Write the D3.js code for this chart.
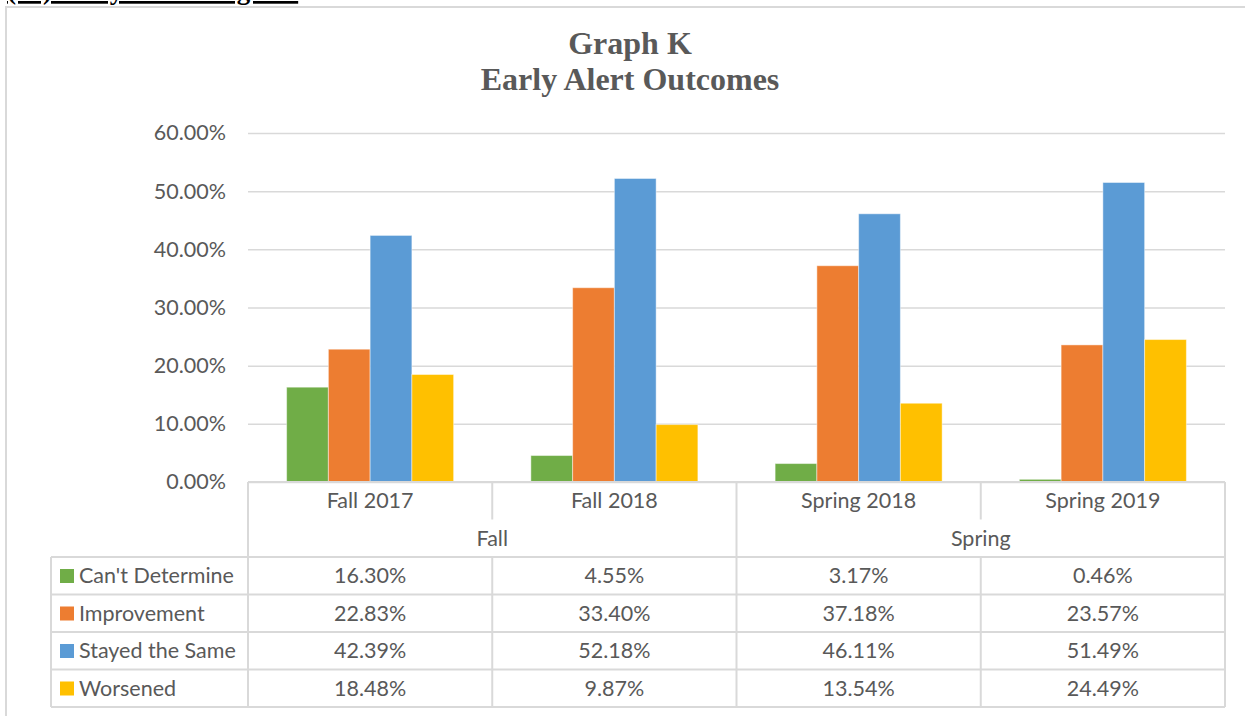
<!DOCTYPE html>
<html>
<head>
<meta charset="utf-8">
<script src="https://cdn.jsdelivr.net/npm/d3@7"></script>
<style>
  html, body { margin: 0; padding: 0; background: #fff; }
  svg { display: block; }
</style>
</head>
<body>
<div id="chart"></div>
<script>
// data
const categories = ['Fall 2017', 'Fall 2018', 'Spring 2018', 'Spring 2019'];
const groups = [
  { name: 'Fall', from: 'Fall 2017', to: 'Fall 2018' },
  { name: 'Spring', from: 'Spring 2018', to: 'Spring 2019' }
];
const seriesNames = ["Can't Determine", 'Improvement', 'Stayed the Same', 'Worsened'];
const cantDetermine = [0.1630, 0.0455, 0.0317, 0.0046];
const improvement = [0.2283, 0.3340, 0.3718, 0.2357];
const stayedSame = [0.4239, 0.5218, 0.4611, 0.5149];
const worsened = [0.1848, 0.0987, 0.1354, 0.2449];
const yTicks = [0, 0.1, 0.2, 0.3, 0.4, 0.5, 0.6];
const seriesValues = [cantDetermine, improvement, stayedSame, worsened];
const colors = ['#70AD47', '#ED7D31', '#5B9BD5', '#FFC000'];

const W = 1245, H = 716;
const textColor = '#595959';
const gridColor = '#d9d9d9';
const font = 'Lato, "Open Sans", sans-serif';
const fontSize = '21.5px';

const svg = d3.select('#chart').append('svg')
  .attr('width', W).attr('height', H);

// heading of the page above the chart, mostly cut off at the top
svg.append('text')
  .attr('x', 7).attr('y', -1)
  .style('font-family', '"Liberation Serif", serif')
  .style('font-weight', 'bold')
  .style('font-size', '27px')
  .style('text-decoration', 'underline')
  .attr('fill', '#000')
  .text('(13) Early Alert Program');

// chart border
svg.append('path')
  .attr('d', 'M6,716 V7 H1245')
  .attr('fill', 'none')
  .attr('stroke', gridColor)
  .attr('stroke-width', 2);

// title
const title = svg.append('text')
  .attr('text-anchor', 'middle')
  .style('font-family', '"Liberation Serif", "Times New Roman", serif')
  .style('font-weight', 'bold')
  .style('font-size', '32px')
  .attr('fill', textColor);
title.append('tspan').attr('x', 630).attr('y', 54).text('Graph K');
title.append('tspan').attr('x', 630).attr('y', 90).text('Early Alert Outcomes');

const plotLeft = 248, plotRight = 1225, plotTop = 133, plotBottom = 482;

const y = d3.scaleLinear().domain([0, 0.6]).range([plotBottom, plotTop]);
const x0 = d3.scaleBand().domain(categories).range([plotLeft, plotRight]);
const x1 = d3.scaleBand().domain(seriesNames).range([0, x0.bandwidth()])
  .paddingInner(0).paddingOuter(0.925);

// gridlines + y labels
const yAxis = svg.append('g')
  .attr('transform', 'translate(' + plotLeft + ',0)')
  .call(d3.axisLeft(y).tickValues(yTicks).tickSize(-(plotRight - plotLeft)).tickPadding(22)
    .tickFormat(d3.format('.2%')));
yAxis.select('.domain').remove();
yAxis.selectAll('.tick line').attr('stroke', gridColor).attr('stroke-width', 1.5);
yAxis.selectAll('.tick text')
  .attr('fill', textColor)
  .style('font-family', font)
  .style('font-size', fontSize);

// bars
const catG = svg.append('g').selectAll('g')
  .data(categories).enter().append('g')
  .attr('transform', d => 'translate(' + x0(d) + ',0)');

catG.selectAll('rect')
  .data((c, ci) => seriesNames.map((s, si) => ({ s: s, si: si, v: seriesValues[si][ci] })))
  .enter().append('rect')
  .attr('x', d => x1(d.s))
  .attr('width', x1.bandwidth())
  .attr('y', d => y(d.v))
  .attr('height', d => plotBottom - y(d.v))
  .attr('fill', d => colors[d.si])
  .attr('stroke', 'rgba(255,255,255,0.45)')
  .attr('stroke-width', 1);

// data table
const rowH = 37.5;
const grpRowY = plotBottom + rowH;
const dataTop = plotBottom + 2 * rowH;
const legendLeft = 51;
const lines = svg.append('g')
  .attr('stroke', gridColor).attr('stroke-width', 2).attr('fill', 'none');

// axis line (top of table)
lines.append('line').attr('x1', plotLeft).attr('x2', plotRight).attr('y1', plotBottom).attr('y2', plotBottom);
// data row lines
for (let r = 0; r <= seriesNames.length; r++) {
  const yy = dataTop + r * rowH;
  lines.append('line').attr('x1', legendLeft).attr('x2', plotRight).attr('y1', yy).attr('y2', yy);
}
const tableBottom = dataTop + seriesNames.length * rowH;
// verticals
lines.append('line').attr('x1', legendLeft).attr('x2', legendLeft).attr('y1', dataTop).attr('y2', tableBottom);
categories.forEach((c) => {
  const xx = x0(c);
  const isGroupEdge = groups.some(g => g.from === c);
  if (isGroupEdge) {
    lines.append('line').attr('x1', xx).attr('x2', xx).attr('y1', plotBottom).attr('y2', tableBottom);
  } else {
    lines.append('line').attr('x1', xx).attr('x2', xx).attr('y1', plotBottom).attr('y2', grpRowY);
    lines.append('line').attr('x1', xx).attr('x2', xx).attr('y1', dataTop).attr('y2', tableBottom);
  }
});
lines.append('line').attr('x1', plotRight).attr('x2', plotRight).attr('y1', plotBottom).attr('y2', tableBottom);

const tableText = svg.append('g')
  .attr('fill', textColor)
  .style('font-family', font)
  .style('font-size', fontSize);

// category names
tableText.selectAll('.cat').data(categories).enter().append('text')
  .attr('x', d => x0(d) + x0.bandwidth() / 2)
  .attr('y', plotBottom + 26)
  .attr('text-anchor', 'middle')
  .text(d => d);

// group names
tableText.selectAll('.grp').data(groups).enter().append('text')
  .attr('x', d => (x0(d.from) + x0(d.to) + x0.bandwidth()) / 2)
  .attr('y', grpRowY + 26)
  .attr('text-anchor', 'middle')
  .text(d => d.name);

// legend + values
seriesNames.forEach((s, si) => {
  const rowY = dataTop + si * rowH;
  svg.append('rect')
    .attr('x', 60).attr('y', rowY + 12)
    .attr('width', 14).attr('height', 14)
    .attr('fill', colors[si]);
  tableText.append('text')
    .attr('x', 79).attr('y', rowY + 26)
    .text(s);
  categories.forEach((c, ci) => {
    tableText.append('text')
      .attr('x', x0(c) + x0.bandwidth() / 2)
      .attr('y', rowY + 26)
      .attr('text-anchor', 'middle')
      .text(d3.format('.2%')(seriesValues[si][ci]));
  });
});
</script>
</body>
</html>
